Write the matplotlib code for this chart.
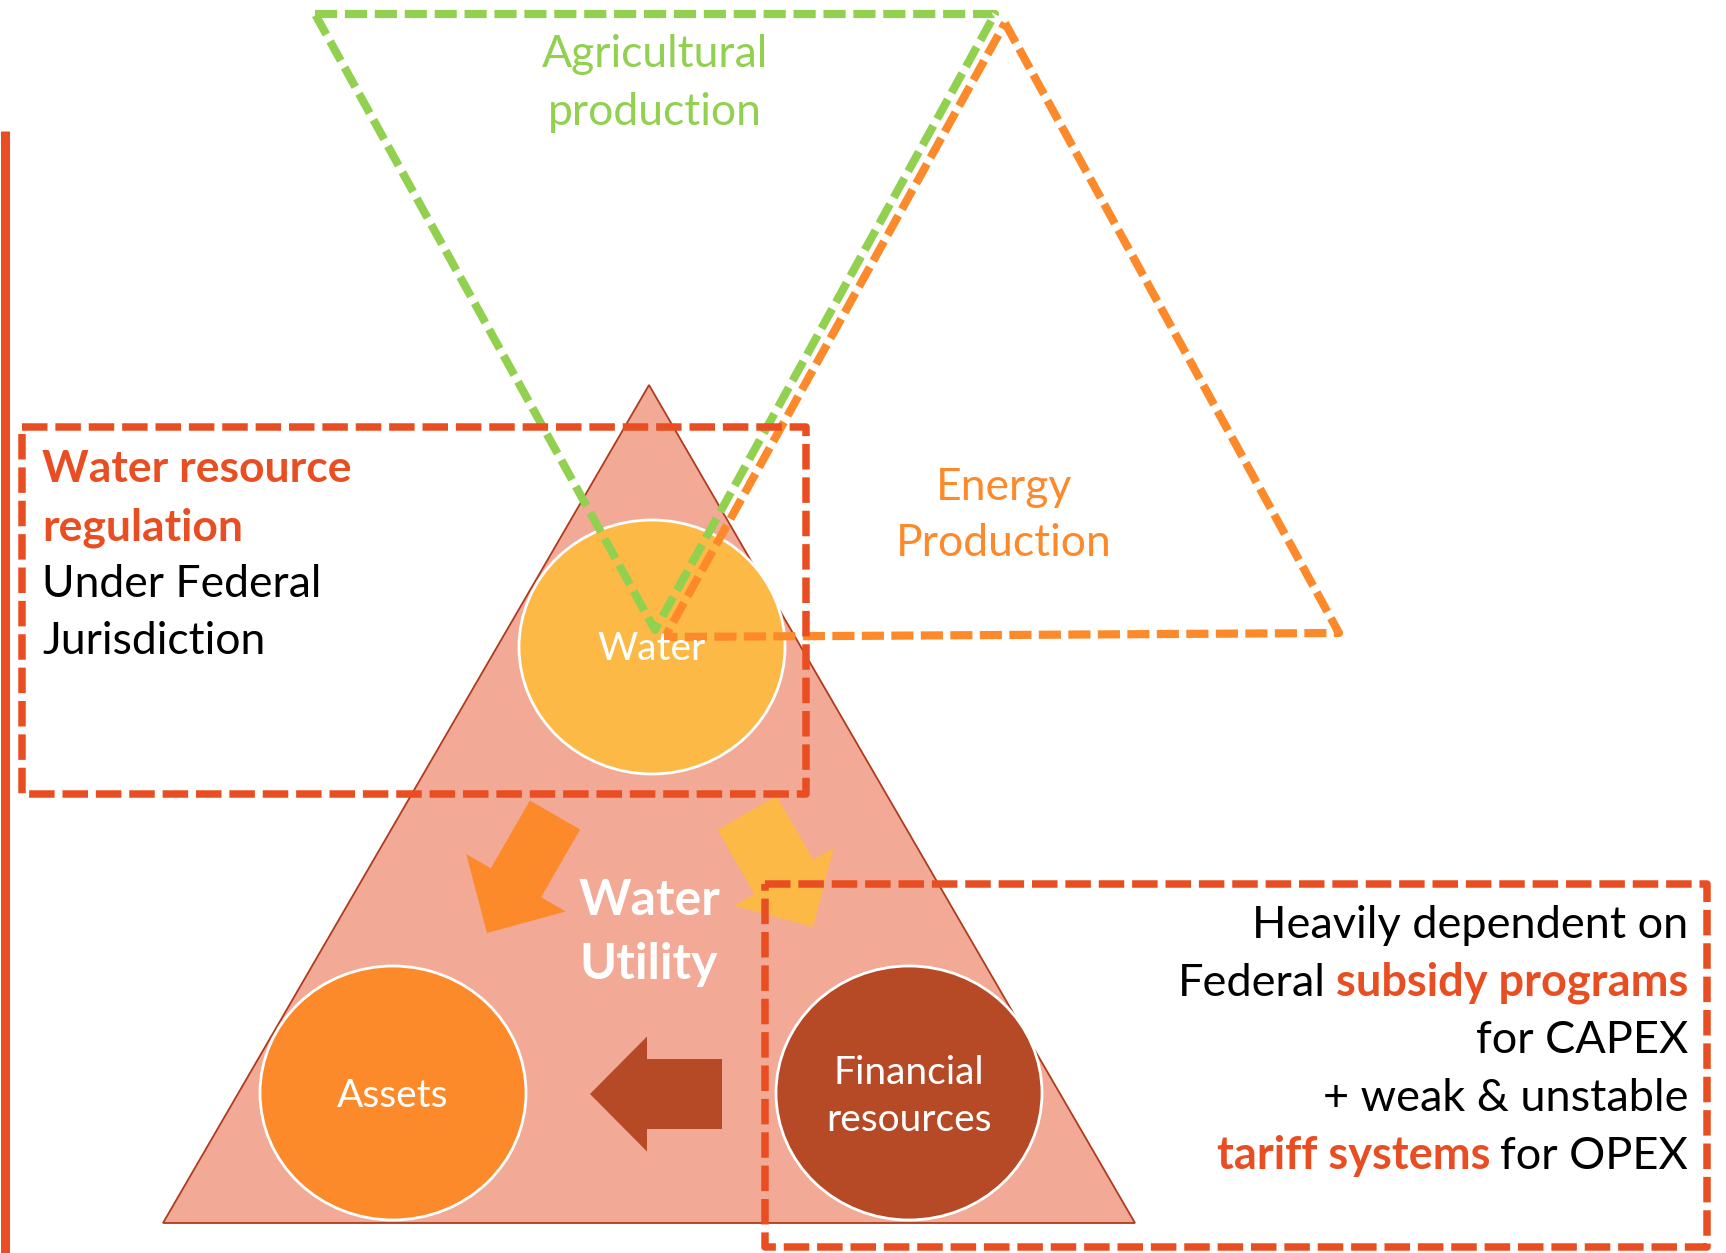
import matplotlib.pyplot as plt
from matplotlib.patches import Polygon, Ellipse, FancyArrow

plt.rcParams['font.family'] = ['Lato', 'DejaVu Sans']

# --- content ---
node_labels = ["Water", "Assets", "Financial\nresources"]
center_label = ["Water", "Utility"]
top_label = ["Agricultural", "production"]
side_label = ["Energy", "Production"]
left_bold = ["Water resource", "regulation"]
left_plain = ["Under Federal", "Jurisdiction"]
right_lines = ["Heavily dependent on", "for CAPEX", "+ weak & unstable"]

# --- colours ---
RED = '#E84E22'
GREEN = '#92D050'
ORANGE = '#FD8A2A'
YELLOW = '#FDB946'
BROWN = '#B64A26'
PINK = '#F2AA96'
node_colors = [YELLOW, ORANGE, BROWN]

W, H = 1726, 1253
fig = plt.figure(figsize=(W / 100, H / 100), dpi=100)
ax = fig.add_axes([0, 0, 1, 1])
ax.set_xlim(0, W)
ax.set_ylim(H, 0)
ax.axis('off')

# big triangle
ax.add_patch(Polygon([(649, 385), (163, 1223), (1135, 1223)], closed=True,
                     facecolor=PINK, edgecolor='#B03A1C', lw=1.3, zorder=1))

# circles
node_xy = [(652, 647), (393, 1093), (909, 1093)]
for (x, y), c in zip(node_xy, node_colors):
    ax.add_patch(Ellipse((x, y), 266, 254, facecolor=c, edgecolor='white', lw=2, zorder=2))

# arrows
ax.add_artist(FancyArrow(555, 815, -68, 118, width=58, head_width=115, head_length=58,
                         length_includes_head=True, color=ORANGE, lw=0, zorder=3))
ax.add_artist(FancyArrow(747, 813, 66, 114, width=68, head_width=115, head_length=58,
                         length_includes_head=True, color=YELLOW, lw=0, zorder=3))
ax.add_artist(FancyArrow(722, 1094, -132, 0, width=70, head_width=115, head_length=57,
                         length_includes_head=True, color=BROWN, lw=0, zorder=3))

# dashed outlines
ax.add_patch(Polygon([(315, 14), (995, 14), (655, 630)], closed=True, fill=False,
                     edgecolor=GREEN, lw=5.9, linestyle=(0, (2.7, 0.95)), joinstyle='round', zorder=4))
ax.add_patch(Polygon([(1005, 23), (1339, 633), (665, 637)], closed=True, fill=False,
                     edgecolor=ORANGE, lw=5.9, linestyle=(0, (2.7, 0.9)), joinstyle='round', zorder=4))
ax.add_patch(Polygon([(22, 427), (806, 427), (806, 794), (22, 794)], closed=True, fill=False,
                     edgecolor=RED, lw=5.4, linestyle=(0, (3.4, 1.05)), joinstyle='round', zorder=4))
ax.add_patch(Polygon([(765, 884), (1707, 884), (1707, 1247), (765, 1247)], closed=True, fill=False,
                     edgecolor=RED, lw=5.4, linestyle=(0, (3.4, 1.05)), joinstyle='round', zorder=4))

# left solid bar
ax.plot([4.5, 4.5], [131, H], color=RED, lw=6.5, solid_capstyle='butt', zorder=4)

# --- texts ---
for s, y in zip(top_label, [67, 125]):
    ax.text(655, y, s, color=GREEN, fontsize=32, ha='center', va='baseline', zorder=5)
for s, y in zip(side_label, [500, 556]):
    ax.text(1004, y, s, color=ORANGE, fontsize=32, ha='center', va='baseline', zorder=5)

for s, y in zip(left_bold, [482, 540]):
    ax.text(42, y, s, color=RED, fontsize=32, fontweight='bold', ha='left', va='baseline', zorder=5)
for s, y in zip(left_plain, [597, 654]):
    ax.text(42, y, s, color='black', fontsize=32, ha='left', va='baseline', zorder=5)

ax.text(652, 660, node_labels[0], color='white', fontsize=28, ha='center', va='baseline', zorder=5)
ax.text(393, 1107, node_labels[1], color='white', fontsize=28, ha='center', va='baseline', zorder=5)
for s, y in zip(node_labels[2].split('\n'), [1084, 1131]):
    ax.text(909, y, s, color='white', fontsize=28, ha='center', va='baseline', zorder=5)

for s, y in zip(center_label, [915, 979]):
    ax.text(649, y, s, color='white', fontsize=36, fontweight='bold', ha='center', va='baseline', zorder=5)

# right block, right aligned
XR = 1688
ax.text(XR, 938, right_lines[0], fontsize=32.5, ha='right', va='baseline', zorder=5)
t = ax.text(XR, 996, "subsidy programs", color=RED, fontsize=32.5, fontweight='bold',
            ha='right', va='baseline', zorder=5)
ax.annotate("Federal", xy=(0, 996), xycoords=(t, 'data'), xytext=(-7, 0),
            textcoords='offset points', fontsize=32.5, ha='right', va='baseline', zorder=5)
ax.text(XR, 1053, right_lines[1], fontsize=32.5, ha='right', va='baseline', zorder=5)
ax.text(XR, 1111, right_lines[2], fontsize=32.5, ha='right', va='baseline', zorder=5)
t = ax.text(XR, 1169, "for OPEX", fontsize=32.5, ha='right', va='baseline', zorder=5)
ax.annotate("tariff systems", xy=(0, 1169), xycoords=(t, 'data'), xytext=(-7, 0),
            textcoords='offset points', color=RED, fontsize=32.5, fontweight='bold',
            ha='right', va='baseline', zorder=5)

fig.savefig('out.png', dpi=100)
